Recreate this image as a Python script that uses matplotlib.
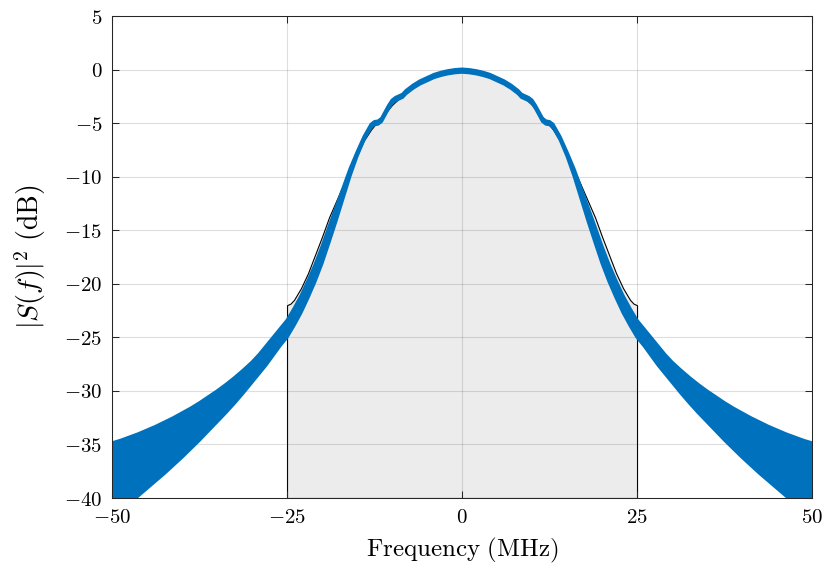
import matplotlib
matplotlib.use("Agg")
import matplotlib.pyplot as plt
from matplotlib.ticker import FuncFormatter

plt.rcParams['mathtext.fontset'] = 'cm'
plt.rcParams['font.family'] = ['DejaVu Serif']

# ---- data ----
# spectrum mask (grey shaded area, black outline)
mask_freq = [-25, -24.5, -24, -23, -22, -21, -20, -19, -18, -17, -16, -15, -14, -13, -12,
             -11, -10, -9, -8, -7, -6, -5, -4, -3, -2, -1, 0,
             1, 2, 3, 4, 5, 6, 7, 8, 9, 10, 11, 12, 13, 14, 15, 16, 17, 18, 19, 20,
             21, 22, 23, 24, 24.5, 25]
mask_db = [-22.0, -21.85, -21.5, -20.4, -19.0, -17.3, -15.6, -13.8, -12.3, -10.8, -9.3, -8.0, -6.6, -5.6, -4.8,
           -4.1, -3.3, -2.7, -2.2, -1.7, -1.3, -0.9, -0.6, -0.35, -0.15, -0.05, 0.0,
           -0.05, -0.15, -0.35, -0.6, -0.9, -1.3, -1.7, -2.2, -2.7, -3.3, -4.1, -4.8, -5.6, -6.6, -8.0, -9.3, -10.8, -12.3, -13.8, -15.6,
           -17.3, -19.0, -20.4, -21.5, -21.85, -22.0]

# measured spectrum |S(f)|^2 : upper / lower envelope of the dense oscillating trace
sig_freq = [-50, -48.75, -47.5, -46.25, -45, -43.75, -42.5, -41.25, -40, -38.75, -37.5, -36.25, -35,
            -33.75, -32.5, -31.25, -30, -29, -28, -27, -26, -25, -24, -23, -22, -21,
            -20, -19, -18, -17, -16, -15, -14, -13, -12.5, -12, -11.5, -11, -10.5, -10, -9.5, -9, -8.5,
            -8, -7, -6, -5, -4, -3, -2, -1, 0,
            1, 2, 3, 4, 5, 6, 7, 8, 8.5, 9, 9.5, 10, 10.5, 11, 11.5, 12, 12.5, 13, 14, 15, 16, 17, 18, 19, 20,
            21, 22, 23, 24, 25, 26, 27, 28, 29, 30, 31.25, 32.5, 33.75,
            35, 36.25, 37.5, 38.75, 40, 41.25, 42.5, 43.75, 45, 46.25, 47.5, 48.75, 50]
sig_upper = [-34.85, -34.6, -34.3, -34.0, -33.65, -33.3, -32.9, -32.5, -32.05, -31.6, -31.1, -30.55, -30.0,
             -29.4, -28.75, -28.05, -27.3, -26.6, -25.8, -25.0, -24.2, -23.4, -22.3, -21.1, -19.7, -18.2,
             -16.5, -14.65, -12.85, -11.05, -9.25, -7.7, -6.25, -5.1, -4.85, -4.8, -4.55, -3.95, -3.35, -2.85, -2.6, -2.45, -2.3,
             -1.95, -1.45, -1.05, -0.75, -0.45, -0.25, -0.1, 0.0, 0.05,
             0.0, -0.1, -0.25, -0.45, -0.75, -1.05, -1.45, -1.95, -2.3, -2.45, -2.6, -2.85, -3.35, -3.95, -4.55, -4.8, -4.85, -5.1, -6.25, -7.7, -9.25, -11.05, -12.85, -14.65, -16.5,
             -18.2, -19.7, -21.1, -22.3, -23.4, -24.2, -25.0, -25.8, -26.6, -27.3, -28.05, -28.75, -29.4,
             -30.0, -30.55, -31.1, -31.6, -32.05, -32.5, -32.9, -33.3, -33.65, -34.0, -34.3, -34.6, -34.85]
sig_lower = [-41.8, -41.15, -40.5, -39.8, -39.1, -38.4, -37.7, -36.95, -36.2, -35.4, -34.6, -33.75, -32.9,
             -32.05, -31.15, -30.2, -29.2, -28.4, -27.6, -26.7, -25.8, -25.0, -23.9, -22.7, -21.3, -19.8,
             -18.1, -16.15, -14.15, -12.05, -9.95, -8.1, -6.55, -5.4, -5.15, -5.1, -4.85, -4.25, -3.65, -3.15, -2.9, -2.75, -2.6,
             -2.25, -1.75, -1.35, -1.05, -0.75, -0.55, -0.4, -0.3, -0.25,
             -0.3, -0.4, -0.55, -0.75, -1.05, -1.35, -1.75, -2.25, -2.6, -2.75, -2.9, -3.15, -3.65, -4.25, -4.85, -5.1, -5.15, -5.4, -6.55, -8.1, -9.95, -12.05, -14.15, -16.15, -18.1,
             -19.8, -21.3, -22.7, -23.9, -25.0, -25.8, -26.7, -27.6, -28.4, -29.2, -30.2, -31.15, -32.05,
             -32.9, -33.75, -34.6, -35.4, -36.2, -36.95, -37.7, -38.4, -39.1, -39.8, -40.5, -41.15, -41.8]

x_ticks = [-50, -25, 0, 25, 50]
y_ticks = [-40, -35, -30, -25, -20, -15, -10, -5, 0, 5]
y_floor = -40

blue = '#0072BD'
axcol = '#262626'

fig = plt.figure(figsize=(8.28, 5.78), dpi=100)
ax = fig.add_axes([0.1353, 0.1384, 0.8454, 0.8339])

ax.fill_between(mask_freq, mask_db, y_floor, facecolor='#ececec', edgecolor='black',
                linewidth=0.8, zorder=1)
ax.fill_between(sig_freq, sig_lower, sig_upper, facecolor=blue, linewidth=0, zorder=3)
ax.plot(sig_freq, sig_upper, color=blue, lw=2.2, zorder=3)
ax.plot(sig_freq, sig_lower, color=blue, lw=2.2, zorder=3)

ax.set_xlim(x_ticks[0], x_ticks[-1])
ax.set_ylim(y_ticks[0], y_ticks[-1])
ax.set_xticks(x_ticks)
ax.set_yticks(y_ticks)
fmt = FuncFormatter(lambda v, p: rf'${v:g}$')
ax.xaxis.set_major_formatter(fmt)
ax.yaxis.set_major_formatter(fmt)

ax.set_axisbelow('line')
ax.grid(True, color=axcol, alpha=0.15, linewidth=0.8)
ax.tick_params(direction='in', length=5, width=0.75, colors=axcol, labelcolor='black',
               top=True, right=True, labelsize=15, pad=7)
for s in ax.spines.values():
    s.set_color(axcol)
    s.set_linewidth(0.75)
    s.set_zorder(5)

ax.set_xlabel(r'$\mathrm{Frequency\ (MHz)}$', fontsize=18)
ax.set_ylabel(r'$|S(f)|^2\ \mathrm{(dB)}$', fontsize=20)
ax.xaxis.set_label_coords(0.5, -0.078)
ax.yaxis.set_label_coords(-0.092, 0.5)

fig.savefig('out.png', dpi=100)
